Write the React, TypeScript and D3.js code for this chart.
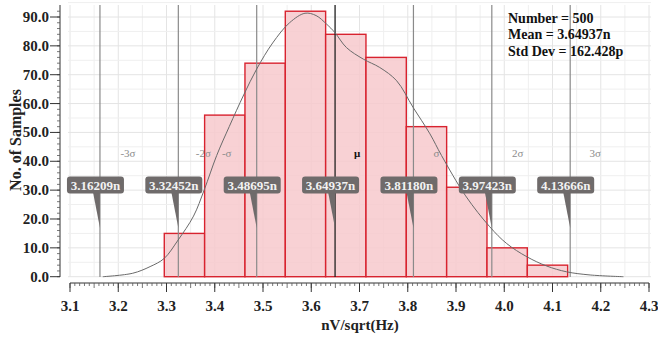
import React from 'react';
import * as d3 from 'd3';

// ---------- data ----------
const binEdges = [3.2954, 3.379, 3.4626, 3.5462, 3.6298, 3.7134, 3.797, 3.8806, 3.9642, 4.0478, 4.1314];
const counts = [15, 56, 74, 92, 84, 76, 52, 31, 10, 4];
const sigmaValues = [3.16209, 3.32452, 3.48695, 3.64937, 3.8118, 3.97423, 4.13666];
const sigmaLabels = ['-3σ', '-2σ', '-σ', 'μ', 'σ', '2σ', '3σ'];
const calloutLabels = ['3.16209n', '3.32452n', '3.48695n', '3.64937n', '3.81180n', '3.97423n', '4.13666n'];
const curveX = [3.168, 3.23, 3.266, 3.295, 3.324, 3.356, 3.378, 3.404, 3.43, 3.46, 3.487, 3.52, 3.555, 3.587, 3.61, 3.632, 3.649, 3.673, 3.708, 3.742, 3.777, 3.811, 3.846, 3.87, 3.92, 3.97, 4.005, 4.047, 4.088, 4.129, 4.178, 4.247];
const curveY = [0, 1.2, 3.5, 6.3, 12.7, 21, 30, 42, 52, 63, 72, 81, 88, 91.3, 90.5, 87.5, 84.6, 79.4, 75.4, 72.5, 67.9, 58.7, 49.5, 42, 28, 17.3, 11.5, 6.9, 3.7, 1.7, 0.6, 0];
const xTicks = [3.1, 3.2, 3.3, 3.4, 3.5, 3.6, 3.7, 3.8, 3.9, 4.0, 4.1, 4.2, 4.3];
const yTicks = [0, 10, 20, 30, 40, 50, 60, 70, 80, 90];
const statsLines = ['Number = 500', 'Mean = 3.64937n', 'Std Dev = 162.428p'];
const xTitle = 'nV/sqrt(Hz)';
const yTitle = 'No. of Samples';

// ---------- layout / style ----------
const W = 658, H = 339;
const FONT = '"Liberation Serif", "DejaVu Serif", serif';
const labelDx = [28, 25, -30, 22, 23, 26, 25];

export default function App() {
  const x = d3.scaleLinear().domain([3.1, 4.3]).range([70, 649]);
  const y = d3.scaleLinear().domain([0, 90]).range([276.7, 17]);
  const gridTop = 5, gridBottom = 277, gridLeft = 68, gridRight = 651;

  const gridX = d3.range(0, 25).map(i => 3.1 + i * 0.05);
  const gridY = d3.range(0, 20).map(i => i * 5);
  const minorX = d3.range(0, 121).map(i => 3.1 + i * 0.01);
  const minorY = d3.range(0, 47).map(i => i * 2);

  const line = d3.line<number>()
    .x((_, i) => x(curveX[i]))
    .y((_, i) => y(curveY[i]))
    .curve(d3.curveCatmullRom.alpha(0.5));

  return (
    <svg width={W} height={H} style={{ position: 'absolute', left: 0, top: 0, background: '#fff' }} fontFamily={FONT}>
      {/* grid */}
      <rect x={gridLeft} y={gridTop} width={gridRight - gridLeft} height={gridBottom - gridTop} fill="#fff" />
      {gridX.map((v, i) => (
        <line key={'gx' + i} x1={x(v)} x2={x(v)} y1={gridTop} y2={gridBottom} stroke={i % 2 === 0 ? '#e4e4e4' : '#efefef'} strokeWidth={1} />
      ))}
      {gridY.map((v, i) => (
        <line key={'gy' + i} x1={gridLeft} x2={gridRight} y1={y(v)} y2={y(v)} stroke={i % 2 === 0 ? '#e4e4e4' : '#efefef'} strokeWidth={1} />
      ))}

      {/* bars */}
      {counts.map((c, i) => (
        <rect key={'b' + i}
          x={x(binEdges[i])} y={y(c)}
          width={x(binEdges[i + 1]) - x(binEdges[i])} height={y(0) - y(c)}
          fill="#f7c9cc" fillOpacity={0.85} stroke="#d8232f" strokeWidth={1.4} />
      ))}

      {/* sigma lines */}
      {sigmaValues.map((v, i) => (
        <line key={'s' + i} x1={x(v)} x2={x(v)} y1={gridTop} y2={gridBottom}
          stroke={i === 3 ? '#222' : '#8a8a8a'} strokeWidth={i === 3 ? 1.3 : 1.2} />
      ))}

      {/* curve */}
      <path d={line(curveX) || ''} fill="none" stroke="#6a6a6a" strokeWidth={1} />

      {/* sigma labels */}
      {sigmaLabels.map((s, i) => (
        <text key={'sl' + i} x={x(sigmaValues[i]) + labelDx[i]} y={157} textAnchor="middle"
          fontSize={11} fill={i === 3 ? '#111' : '#8c8c8c'} fontWeight={i === 3 ? 'bold' : 'normal'}>{s}</text>
      ))}

      {/* callouts */}
      {calloutLabels.map((s, i) => {
        const lx = x(sigmaValues[i]);
        const cx = lx - 4.5;
        return (
          <g key={'c' + i}>
            <path d={`M${lx - 7},192 L${lx},192 L${lx},228 Z`} fill="#6f6b6b" />
            <rect x={cx - 28.5} y={176.5} width={57} height={17} rx={3} fill="#6f6b6b" />
            <text x={cx} y={189.5} textAnchor="middle" fontSize={13} fontWeight="bold" fill="#f2f2f2">{s}</text>
          </g>
        );
      })}

      {/* stats */}
      {statsLines.map((s, i) => (
        <text key={'st' + i} x={508} y={22.5 + i * 16.7} fontSize={14} fontWeight="bold" fill="#111">{s}</text>
      ))}

      {/* y axis ruler */}
      <line x1={60} x2={60} y1={gridTop} y2={gridBottom} stroke="#333" strokeWidth={1} />
      {minorY.map((v, i) => (
        <line key={'my' + i} x1={57} x2={60} y1={y(v)} y2={y(v)} stroke="#555" strokeWidth={0.8} />
      ))}
      {yTicks.map((v, i) => (
        <g key={'yt' + i}>
          <line x1={50} x2={60} y1={y(v)} y2={y(v)} stroke="#333" strokeWidth={1} />
          <text x={49} y={y(v) + 5} textAnchor="end" fontSize={15} fontWeight="bold" fill="#222">{v.toFixed(1)}</text>
        </g>
      ))}
      <text transform={`translate(20.5,140) rotate(-90)`} textAnchor="middle" fontSize={16} fontWeight="bold" fill="#222">{yTitle}</text>

      {/* x axis ruler */}
      <line x1={x(3.1)} x2={x(4.3)} y1={283} y2={283} stroke="#333" strokeWidth={1} />
      {minorX.map((v, i) => (
        <line key={'mx' + i} x1={x(v)} x2={x(v)} y1={283} y2={i % 5 === 0 ? 288 : 286} stroke="#555" strokeWidth={0.8} />
      ))}
      {xTicks.map((v, i) => (
        <g key={'xt' + i}>
          <line x1={x(v)} x2={x(v)} y1={283} y2={292} stroke="#333" strokeWidth={1} />
          <text x={x(v)} y={311} textAnchor="middle" fontSize={15} fontWeight="bold" fill="#222">{v.toFixed(1)}</text>
        </g>
      ))}
      <text x={360} y={330} textAnchor="middle" fontSize={15} fontWeight="bold" fill="#222">{xTitle}</text>
    </svg>
  );
}
